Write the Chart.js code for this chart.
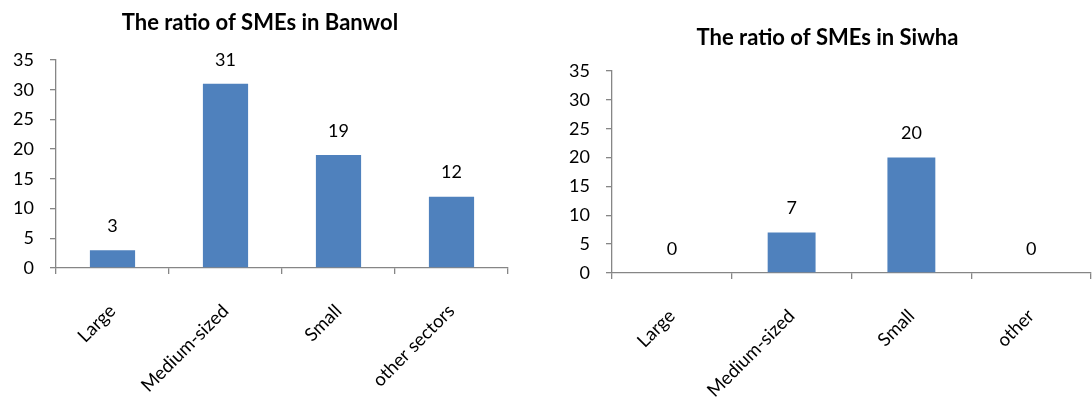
<!DOCTYPE html>
<html><head><meta charset="utf-8">
<script src="https://cdn.jsdelivr.net/npm/chart.js@4.4.1/dist/chart.umd.min.js"></script>
<style>
html,body{margin:0;padding:0;background:#fff;overflow:hidden;width:1092px;height:397px}
.box{position:absolute;top:0;width:546px;height:397px}
#a{left:0}#b{left:546px}
</style></head><body>
<div class="box" id="a"><canvas id="c1" width="546" height="397"></canvas></div>
<div class="box" id="b"><canvas id="c2" width="546" height="397"></canvas></div>
<script>
const banwolTitle = 'The ratio of SMEs in Banwol';
const banwolCategories = ['Large', 'Medium-sized', 'Small', 'other sectors'];
const banwolValues = [3, 31, 19, 12];

const siwhaTitle = 'The ratio of SMEs in Siwha';
const siwhaCategories = ['Large', 'Medium-sized', 'Small', 'other'];
const siwhaValues = [0, 7, 20, 0];

const yMin = 0, yMax = 35, yStep = 5;

const FONT = 'Lato, "Open Sans", sans-serif';
const AXIS = '#868686';
const BAR = '#4F81BD';

const valueLabels = {
  id: 'valueLabels',
  afterDatasetsDraw(chart) {
    const ctx = chart.ctx;
    ctx.save();
    ctx.font = '18px ' + FONT;
    ctx.fillStyle = '#000';
    ctx.textAlign = 'center';
    ctx.textBaseline = 'middle';
    chart.data.datasets.forEach((ds, i) => {
      chart.getDatasetMeta(i).data.forEach((el, j) => {
        ctx.fillText(String(ds.data[j]), el.x, el.y - 24);
      });
    });
    ctx.restore();
  }
};

function makeChart(id, title, cats, vals, g) {
  return new Chart(document.getElementById(id), {
    type: 'bar',
    data: { labels: cats, datasets: [{ data: vals, backgroundColor: BAR, borderWidth: 0, categoryPercentage: 0.4, barPercentage: 1 }] },
    options: {
      responsive: false,
      animation: false,
      events: [],
      layout: { padding: { left: g.pl, right: g.pr, top: 0, bottom: 0 } },
      plugins: {
        legend: { display: false },
        tooltip: { enabled: false },
        title: {
          display: true, text: title, color: '#000',
          font: { family: FONT, size: 22, weight: 'bold', lineHeight: 1.2 },
          padding: { top: g.tt, bottom: g.tb }
        }
      },
      scales: {
        x: {
          afterFit: s => { s.height = g.xh; },
          grid: { display: true, drawOnChartArea: false, tickLength: 6, color: AXIS, lineWidth: 1.3, offset: true },
          border: { display: true, color: AXIS, width: 1.3 },
          ticks: { color: '#000', font: { family: FONT, size: 18.5 }, minRotation: 45, maxRotation: 45, autoSkip: false, padding: 26 }
        },
        y: {
          min: yMin, max: yMax,
          afterFit: s => { s.width = g.yw; },
          grid: { display: true, drawOnChartArea: false, tickLength: 6, color: AXIS, lineWidth: 1.3 },
          border: { display: true, color: AXIS, width: 1.3 },
          ticks: { stepSize: yStep, color: '#000', font: { family: FONT, size: 18 }, padding: 16 }
        }
      }
    },
    plugins: [valueLabels]
  });
}

makeChart('c1', banwolTitle, banwolCategories, banwolValues, { pl: 12, pr: 38, yw: 44, xh: 129, tt: 9.8, tb: 23.8 });
makeChart('c2', siwhaTitle, siwhaCategories, siwhaValues, { pl: 18, pr: 1, yw: 48, xh: 124, tt: 24.8, tb: 19.8 });
</script>
</body></html>
